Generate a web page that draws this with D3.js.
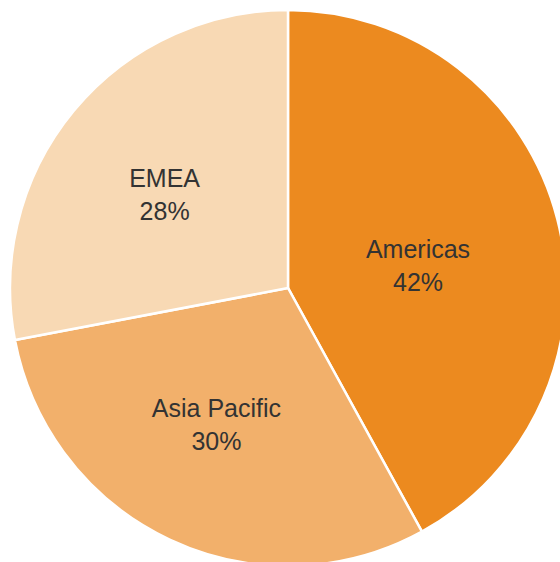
<!DOCTYPE html>
<html>
<head>
<meta charset="utf-8">
<script src="https://cdn.jsdelivr.net/npm/d3@7"></script>
<style>
  body { margin: 0; background: #fff; }
  text { font-family: "Liberation Sans", Arial, Helvetica, sans-serif; }
</style>
</head>
<body>
<script>
// regions and their share of the total
var regions = ["Americas", "Asia Pacific", "EMEA"];
var shares = [42, 30, 28];
var colors = ["#ec8a1f", "#f2b06b", "#f8d9b4"];

var width = 560, height = 562;
var cx = 288, cy = 288, radius = 278;

var data = regions.map(function(r, i) {
  return { region: r, value: shares[i], color: colors[i] };
});

var svg = d3.select("body").append("svg")
    .attr("width", width)
    .attr("height", height)
  .append("g")
    .attr("transform", "translate(" + cx + "," + cy + ")");

var pie = d3.pie()
    .sort(null)
    .value(function(d) { return d.value; });

var arc = d3.arc()
    .innerRadius(0)
    .outerRadius(radius);

var labelArc = d3.arc()
    .innerRadius(radius * 0.52)
    .outerRadius(radius * 0.52);

// small label tweaks so text sits where the original put it
var nudge = { "Americas": [-10, 11], "Asia Pacific": [-10, 3], "EMEA": [-12, -4] };

var slices = svg.selectAll(".slice")
    .data(pie(data))
  .enter().append("g")
    .attr("class", "slice");

slices.append("path")
    .attr("d", arc)
    .attr("fill", function(d) { return d.data.color; })
    .attr("stroke", "#fff")
    .attr("stroke-width", 2.5);

//two line label: name, then percent
var labels = slices.append("text")
    .attr("transform", function(d) {
      var c = labelArc.centroid(d);
      var n = nudge[d.data.region];
      return "translate(" + (c[0] + n[0]) + "," + (c[1] + n[1]) + ")";
    })
    .attr("text-anchor", "middle")
    .attr("fill", "#333")
    .style("font-size", "25px");

labels.append("tspan")
    .attr("x", 0)
    .attr("y", -5)
    .text(function(d) { return d.data.region; });

labels.append("tspan")
    .attr("x", 0)
    .attr("y", 28)
    .text(function(d) { return d.data.value + "%"; });
</script>
</body>
</html>
